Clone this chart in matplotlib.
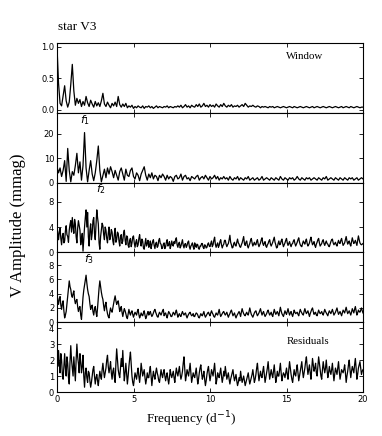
import numpy as np
import matplotlib
matplotlib.use("Agg")
import matplotlib.pyplot as plt

# frequency grids (d^-1)
freq_coarse = np.linspace(0, 20, 201)   # 0.1 step
freq_fine = np.linspace(0, 20, 401)     # 0.05 step

# spectral window (0.1 step)
window = [
    1.00, 0.42, 0.10, 0.06, 0.22, 0.38, 0.14, 0.04, 0.12, 0.40,
    0.72, 0.30, 0.07, 0.18, 0.10, 0.16, 0.05, 0.13, 0.07, 0.21,
    0.11, 0.05, 0.15, 0.09, 0.04, 0.13, 0.06, 0.11, 0.05, 0.14,
    0.26, 0.09, 0.05, 0.12, 0.07, 0.03, 0.10, 0.06, 0.12, 0.05,
    0.21, 0.08, 0.04, 0.09, 0.05, 0.10, 0.03, 0.06, 0.04, 0.07,
    0.02, 0.05, 0.03, 0.06, 0.04, 0.03, 0.06, 0.02, 0.05, 0.04,
    0.06, 0.03, 0.05, 0.02, 0.04, 0.06, 0.03, 0.05, 0.04, 0.03,
    0.05, 0.04, 0.06, 0.03, 0.05, 0.04, 0.03, 0.05, 0.04, 0.06,
    0.04, 0.07, 0.03, 0.05, 0.08, 0.04, 0.06, 0.03, 0.07, 0.05,
    0.04, 0.08, 0.05, 0.09, 0.04, 0.06, 0.10, 0.05, 0.07, 0.04,
    0.08, 0.05, 0.07, 0.04, 0.09, 0.06, 0.04, 0.08, 0.05, 0.10,
    0.06, 0.04, 0.07, 0.05, 0.08, 0.04, 0.06, 0.05, 0.07, 0.04,
    0.06, 0.08, 0.05, 0.10, 0.07, 0.04, 0.06, 0.05, 0.07, 0.05,
    0.04, 0.06, 0.05, 0.03, 0.05, 0.04, 0.05, 0.04, 0.03, 0.05,
    0.04, 0.05, 0.03, 0.04, 0.05, 0.04, 0.03, 0.04, 0.05, 0.04,
    0.03, 0.04, 0.05, 0.04, 0.03, 0.05, 0.04, 0.03, 0.04, 0.05,
    0.04, 0.03, 0.04, 0.05, 0.04, 0.03, 0.04, 0.05, 0.03, 0.04,
    0.05, 0.04, 0.03, 0.04, 0.05, 0.04, 0.03, 0.04, 0.05, 0.04,
    0.03, 0.04, 0.05, 0.04, 0.03, 0.04, 0.05, 0.03, 0.04, 0.05,
    0.04, 0.03, 0.05, 0.04, 0.03, 0.04, 0.05, 0.04, 0.03, 0.04,
    0.04,
]

# amplitude spectrum of the data, f1 marked (0.1 step)
amp_data = [
    6.5, 4.0, 6.0, 2.5, 5.0, 9.0, 0.5, 14.0, 5.0, 0.3,
    4.5, 3.0, 7.0, 12.0, 4.0, 8.5, 1.0, 7.0, 20.5, 6.0,
    0.3, 5.0, 9.0, 3.5, 0.8, 4.0, 9.0, 15.0, 5.0, 0.3,
    3.0, 5.5, 2.0, 6.0, 3.5, 6.5, 4.5, 2.0, 5.0, 3.0,
    1.0, 4.5, 6.0, 3.5, 1.0, 5.5, 3.0, 2.5, 5.0, 6.0,
    2.5, 1.5, 4.0, 3.0, 0.8, 3.5, 5.0, 6.5, 3.0, 1.0,
    3.5, 2.0, 4.0, 1.5, 3.0, 2.5, 0.8, 3.0, 2.0, 3.5,
    2.5, 1.0, 3.0, 1.5, 2.5, 2.0, 0.5, 2.5, 3.0, 1.5,
    2.0, 3.5, 1.0, 2.5, 3.0, 1.5, 2.0, 0.8, 2.5, 2.0,
    1.5, 2.5, 3.0, 1.0, 2.0, 2.5, 1.5, 3.0, 2.0, 1.0,
    2.5, 1.5, 2.0, 3.0, 1.5, 2.5, 1.0, 2.0, 1.5, 2.5,
    1.5, 2.0, 1.0, 2.5, 1.5, 1.0, 2.0, 1.5, 2.5, 1.0,
    2.0, 1.5, 1.0, 2.0, 1.5, 2.5, 1.0, 1.5, 2.0, 1.0,
    1.5, 2.0, 1.0, 1.5, 2.5, 1.0, 1.5, 2.0, 1.5, 1.0,
    2.0, 1.5, 1.0, 2.0, 1.5, 1.0, 2.5, 1.5, 1.0, 2.0,
    1.5, 1.0, 2.0, 1.5, 2.0, 1.0, 1.5, 2.5, 1.5, 1.0,
    2.0, 1.5, 1.0, 2.0, 1.5, 2.0, 1.0, 1.5, 2.0, 1.5,
    1.0, 2.0, 1.5, 1.0, 2.0, 1.5, 2.5, 1.0, 1.5, 2.0,
    1.5, 1.0, 2.0, 1.5, 1.0, 2.0, 1.5, 1.0, 2.0, 1.5,
    1.0, 2.0, 1.5, 2.0, 1.0, 1.5, 2.0, 1.0, 1.5, 2.0,
    1.5,
]

# after prewhitening f1, f2 marked (0.05 step, 10 values per 0.5 d^-1)
amp_pw1 = [
    4.3, 3.0, 2.0, 3.2, 3.8, 2.2, 1.2, 2.6, 3.0, 1.5,
    1.8, 3.4, 4.2, 2.8, 2.5, 1.6, 3.5, 4.4, 5.0, 3.2,
    5.5, 4.0, 3.0, 5.2, 4.5, 2.5, 1.5, 3.8, 5.0, 4.2,
    3.5, 1.2, 2.0, 3.0, 0.2, 2.2, 4.0, 5.5, 6.7, 4.0,
    6.3, 2.5, 1.0, 3.5, 4.5, 2.0, 3.0, 5.0, 5.5, 3.0,
    2.0, 4.5, 6.7, 5.5, 4.5, 1.5, 0.5, 2.5, 3.5, 4.6,
    4.2, 2.8, 2.0, 4.0, 3.5, 2.2, 1.5, 3.0, 4.0, 2.0,
    2.5, 3.6, 3.2, 1.8, 1.2, 2.9, 3.8, 1.6, 2.0, 3.2,
    3.0, 1.8, 1.0, 2.5, 2.8, 1.4, 1.8, 3.0, 3.5, 2.0,
    1.2, 2.6, 2.5, 1.1, 0.8, 1.9, 2.2, 0.9, 1.5, 2.4,
    2.6, 1.5, 0.8, 1.6, 2.0, 0.9, 1.2, 2.2, 2.8, 1.6,
    1.0, 2.1, 1.8, 0.7, 0.5, 1.4, 2.2, 1.0, 1.4, 1.9,
    0.8, 1.2, 1.8, 0.6, 1.2, 1.7, 2.0, 1.1, 0.6, 1.4,
    1.6, 0.8, 1.0, 1.9, 2.2, 1.4, 1.3, 0.6, 0.7, 1.3,
    1.5, 0.6, 0.9, 1.6, 2.0, 1.0, 1.2, 1.7, 0.6, 1.1,
    1.8, 1.2, 1.0, 1.7, 1.4, 2.0, 2.3, 1.2, 0.8, 1.4,
    1.6, 0.7, 1.0, 1.5, 2.0, 1.1, 0.7, 1.3, 1.4, 0.8,
    1.1, 1.6, 1.8, 0.9, 0.5, 1.0, 1.2, 1.5, 0.9, 0.5,
    1.5, 1.1, 0.8, 1.3, 1.2, 0.6, 0.5, 1.0, 1.0, 1.4,
    1.4, 0.8, 0.6, 1.2, 1.1, 0.7, 0.8, 1.3, 1.5, 1.0,
    0.9, 1.4, 1.8, 0.9, 1.2, 1.9, 2.4, 1.3, 0.8, 1.2,
    1.5, 0.8, 1.1, 1.7, 2.0, 1.2, 0.7, 1.1, 1.3, 1.9,
    1.9, 1.3, 0.9, 1.2, 1.4, 2.0, 2.7, 1.6, 1.2, 0.7,
    0.8, 1.4, 1.6, 1.1, 1.0, 1.6, 2.1, 1.5, 1.3, 0.9,
    0.8, 1.2, 1.5, 2.0, 2.5, 1.4, 1.1, 1.6, 1.8, 1.0,
    0.7, 1.1, 1.4, 1.9, 2.2, 1.5, 1.0, 1.3, 1.6, 1.2,
    1.2, 1.7, 2.0, 1.3, 0.9, 1.2, 1.5, 2.0, 2.3, 1.4,
    1.1, 1.5, 1.7, 1.0, 0.8, 1.2, 1.4, 1.8, 2.0, 1.3,
    1.0, 1.3, 1.6, 2.0, 2.4, 1.6, 1.2, 0.7, 0.8, 1.4,
    1.8, 1.2, 1.3, 1.8, 2.1, 1.4, 0.9, 1.2, 1.5, 1.9,
    2.2, 1.5, 1.1, 1.4, 1.7, 1.2, 0.9, 1.3, 1.4, 1.8,
    2.0, 1.4, 1.0, 1.3, 1.6, 2.0, 2.3, 1.6, 1.2, 1.0,
    0.9, 1.4, 1.8, 1.5, 1.3, 1.8, 2.1, 1.4, 1.0, 1.2,
    1.5, 2.0, 2.4, 1.7, 1.2, 1.4, 1.7, 1.1, 0.8, 1.3,
    1.6, 2.0, 2.2, 1.5, 1.0, 1.2, 1.4, 1.8, 2.0, 1.4,
    1.1, 1.5, 1.8, 1.4, 1.3, 1.0, 0.9, 1.3, 1.7, 2.0,
    2.1, 1.5, 1.2, 1.4, 1.6, 1.2, 1.0, 1.5, 1.9, 1.5,
    1.4, 1.9, 2.2, 1.6, 1.1, 1.3, 1.5, 2.0, 2.5, 1.8,
    1.3, 1.6, 1.8, 1.3, 1.0, 1.7, 2.3, 1.8, 1.4, 1.6,
    1.9, 1.5, 1.1, 1.9, 2.6, 2.0, 1.5, 1.3, 1.2, 1.3,
    1.4,
]

# after prewhitening f1, f2; f3 marked (0.05 step)
amp_pw2 = [
    4.2, 3.0, 2.5, 3.3, 3.6, 2.4, 1.8, 2.6, 3.0, 1.6,
    0.6, 1.0, 1.5, 2.6, 3.8, 4.8, 5.8, 5.0, 4.6, 3.8,
    3.5, 4.0, 4.4, 3.2, 2.6, 3.0, 3.2, 2.2, 1.5, 2.0,
    2.2, 1.0, 0.4, 2.0, 3.5, 4.5, 5.2, 6.0, 6.6, 5.5,
    4.6, 4.0, 3.6, 2.6, 1.8, 2.2, 2.4, 1.5, 1.0, 1.8,
    2.2, 1.4, 0.8, 2.0, 3.4, 4.8, 5.8, 5.0, 4.2, 3.6,
    3.2, 2.3, 1.6, 2.4, 2.8, 1.8, 1.2, 0.8, 0.6, 1.4,
    2.0, 1.6, 1.4, 2.0, 2.6, 3.2, 3.7, 3.0, 2.5, 2.8,
    3.0, 2.2, 1.5, 1.9, 2.2, 1.4, 0.8, 1.4, 1.9, 1.6,
    1.2, 0.7, 0.5, 1.2, 1.8, 1.3, 1.0, 1.4, 1.6, 1.1,
    0.7, 1.1, 1.4, 1.2, 1.0, 1.5, 1.8, 1.1, 0.6, 0.9,
    1.3, 1.0, 0.9, 1.3, 1.6, 1.0, 0.5, 0.8, 1.2, 1.5,
    1.0, 1.3, 1.5, 1.1, 0.8, 1.0, 1.3, 1.6, 1.8, 1.4,
    1.1, 0.8, 0.7, 1.1, 1.4, 1.2, 1.0, 1.3, 1.6, 1.8,
    0.9, 1.2, 1.3, 0.9, 0.6, 1.1, 1.5, 1.3, 1.1, 0.8,
    0.8, 1.1, 1.4, 1.2, 1.0, 1.4, 1.7, 1.2, 0.7, 1.0,
    1.2, 0.9, 0.8, 1.2, 1.5, 1.2, 1.0, 1.2, 1.3, 0.9,
    0.6, 0.9, 1.1, 1.3, 1.4, 1.1, 0.9, 1.0, 1.2, 0.8,
    0.8, 1.1, 1.3, 1.2, 1.0, 0.7, 0.6, 0.9, 1.2, 1.0,
    0.9, 1.2, 1.5, 1.0, 0.7, 0.9, 1.1, 1.3, 1.4, 1.1,
    0.9, 1.3, 1.6, 1.3, 1.1, 0.8, 0.7, 1.0, 1.3, 1.1,
    1.0, 1.4, 1.8, 1.2, 0.8, 1.0, 1.2, 1.4, 1.5, 1.2,
    1.0, 1.2, 1.4, 1.0, 0.7, 1.0, 1.2, 1.5, 1.7, 1.3,
    0.9, 1.1, 1.3, 0.9, 0.6, 0.9, 1.1, 1.3, 1.5, 1.2,
    0.8, 1.4, 1.9, 1.5, 1.2, 1.0, 0.9, 1.2, 1.4, 1.1,
    1.0, 1.5, 2.0, 1.5, 1.1, 0.9, 0.7, 1.0, 1.3, 1.5,
    1.6, 1.2, 0.9, 1.1, 1.3, 1.6, 1.9, 1.4, 1.0, 1.3,
    1.5, 1.1, 0.8, 1.0, 1.2, 1.5, 1.7, 1.3, 1.0, 1.2,
    1.4, 1.0, 0.8, 1.3, 1.8, 1.4, 1.1, 1.3, 1.5, 1.2,
    0.9, 1.5, 2.1, 1.6, 1.2, 1.0, 0.8, 1.2, 1.6, 1.3,
    1.1, 1.5, 1.9, 1.4, 1.0, 1.3, 1.5, 1.1, 0.8, 1.2,
    1.7, 1.4, 1.2, 1.3, 1.4, 1.1, 0.9, 1.4, 1.8, 1.5,
    1.3, 1.1, 1.0, 1.5, 1.9, 1.5, 1.2, 1.4, 1.6, 1.2,
    0.8, 1.2, 1.5, 1.8, 2.0, 1.5, 1.1, 1.3, 1.4, 1.0,
    0.9, 1.3, 1.7, 1.4, 1.2, 1.3, 1.5, 1.2, 1.0, 1.4,
    1.8, 1.5, 1.3, 1.1, 0.9, 1.3, 1.6, 1.4, 1.2, 1.5,
    1.8, 1.4, 1.0, 1.2, 1.4, 1.7, 2.0, 1.5, 1.1, 1.3,
    1.5, 1.2, 0.9, 1.3, 1.7, 1.5, 1.3, 1.7, 2.1, 1.6,
    1.2, 1.4, 1.6, 1.3, 1.0, 1.4, 1.9, 1.6, 1.3, 1.8,
    2.2, 1.6, 1.0, 1.3, 1.7, 1.5, 1.4, 1.7, 2.0, 1.6,
    1.3,
]

# residuals after f1, f2, f3 (0.05 step)
amp_resid = [
    2.2, 1.6, 2.6, 1.8, 1.2, 2.4, 2.0, 1.1, 0.8, 1.6,
    2.4, 1.5, 1.0, 2.2, 1.8, 0.9, 0.5, 1.9, 2.9, 2.0,
    1.5, 1.0, 2.2, 1.4, 0.7, 2.0, 3.0, 2.2, 1.8, 1.2,
    2.4, 1.9, 1.2, 1.6, 2.3, 1.0, 0.3, 1.2, 1.5, 0.9,
    0.6, 1.3, 1.2, 0.7, 0.3, 0.6, 1.0, 1.4, 1.6, 1.0,
    0.5, 0.9, 1.1, 0.7, 0.4, 0.9, 1.3, 1.0, 0.8, 1.4,
    1.8, 1.3, 0.9, 1.2, 1.5, 2.0, 2.3, 1.6, 1.2, 1.5,
    1.9, 1.2, 0.8, 1.3, 1.5, 0.9, 0.6, 1.8, 2.7, 2.0,
    1.4, 1.1, 0.9, 1.5, 2.1, 1.6, 2.6, 1.5, 0.7, 1.2,
    1.8, 1.1, 0.5, 1.0, 1.6, 2.1, 2.5, 1.7, 1.0, 0.6,
    0.4, 0.8, 1.2, 1.0, 0.8, 1.2, 1.5, 1.0, 0.6, 1.1,
    1.8, 1.4, 1.0, 1.2, 1.4, 0.9, 0.5, 0.8, 1.2, 0.9,
    0.9, 1.3, 1.6, 1.0, 0.4, 0.9, 1.3, 1.0, 0.8, 1.2,
    1.5, 1.2, 1.0, 0.7, 0.6, 1.0, 1.4, 1.1, 0.9, 1.2,
    1.4, 1.0, 0.7, 1.0, 1.2, 0.8, 0.5, 0.9, 1.4, 1.1,
    0.9, 1.1, 1.3, 0.9, 0.6, 1.1, 1.5, 1.2, 1.0, 1.3,
    1.6, 1.1, 0.8, 1.0, 1.3, 1.8, 2.2, 1.4, 0.7, 1.0,
    1.4, 1.2, 1.0, 1.4, 1.8, 1.2, 0.6, 0.9, 1.2, 1.0,
    0.9, 1.2, 1.5, 1.0, 0.5, 0.8, 1.2, 1.5, 1.7, 1.2,
    0.8, 1.0, 1.3, 0.8, 0.4, 0.7, 1.1, 1.4, 1.6, 1.1,
    0.7, 1.0, 1.4, 1.2, 1.0, 1.4, 1.8, 1.1, 0.5, 0.8,
    1.2, 1.0, 0.9, 1.2, 1.5, 1.0, 0.6, 0.9, 1.3, 1.0,
    1.6, 1.2, 0.8, 1.0, 1.2, 0.8, 0.5, 0.8, 1.0, 1.2,
    1.4, 1.0, 0.7, 0.9, 1.1, 0.7, 0.4, 0.6, 0.9, 0.7,
    1.3, 0.9, 0.6, 0.8, 1.0, 0.7, 0.4, 0.6, 0.8, 1.0,
    1.2, 0.8, 0.5, 0.7, 0.9, 1.1, 1.4, 1.0, 0.6, 0.8,
    1.1, 1.5, 1.8, 1.2, 0.7, 1.0, 1.3, 1.0, 0.9, 1.3,
    1.6, 1.1, 0.6, 0.9, 1.2, 1.5, 1.9, 1.3, 0.8, 1.1,
    1.4, 1.1, 0.9, 1.3, 1.7, 1.1, 0.6, 0.9, 1.3, 1.0,
    1.0, 1.4, 1.8, 1.2, 0.7, 1.0, 1.2, 1.1, 0.9, 1.2,
    1.5, 1.1, 0.8, 1.4, 1.9, 1.5, 1.1, 0.8, 0.6, 1.0,
    1.4, 1.1, 1.0, 1.4, 1.7, 1.2, 0.7, 1.0, 1.3, 1.6,
    1.9, 1.3, 0.9, 1.2, 1.5, 1.9, 2.2, 1.6, 1.1, 1.4,
    1.7, 1.2, 0.8, 1.5, 2.1, 1.7, 1.3, 1.5, 1.8, 1.2,
    1.0, 1.6, 2.2, 1.8, 1.4, 1.0, 0.8, 1.4, 1.9, 1.5,
    1.2, 1.5, 2.0, 1.4, 0.9, 1.2, 1.6, 1.3, 1.1, 1.4,
    1.8, 1.2, 0.7, 1.1, 1.5, 1.3, 1.1, 1.5, 1.9, 1.3,
    0.8, 1.1, 1.4, 1.3, 1.2, 1.4, 1.7, 1.2, 0.6, 1.0,
    1.3, 1.7, 2.0, 1.4, 0.9, 1.3, 1.6, 1.4, 1.2, 1.7,
    2.1, 1.5, 0.8, 1.1, 1.5, 1.7, 1.9, 1.5, 1.1, 1.3,
    1.4,
]

freqs = [freq_coarse, freq_coarse, freq_fine, freq_fine, freq_fine]
series = [window, amp_data, amp_pw1, amp_pw2, amp_resid]
ylims = [(-0.05, 1.06), (0, 28.6), (0, 11), (0, 9.8), (0, 4.37)]
yticks = [[0, 0.5, 1.0], [0, 10, 20], [0, 4, 8], [0, 2, 4, 6, 8], [0, 1, 2, 3, 4]]
ytlabels = [["0.0", "0.5", "1.0"], None, None, None, None]
peak_labels = [None, (1.83, r"$f_1$"), (2.88, r"$f_2$"), (2.1, r"$f_3$"), None]

SERIF = ["Liberation Serif", "DejaVu Serif"]

fig = plt.figure(figsize=(3.82, 4.36), dpi=100)
fig.subplots_adjust(left=57/382, right=363/382, top=1-43/436, bottom=1-392/436, hspace=0)
axes = fig.subplots(5, 1, sharex=True)

for i, ax in enumerate(axes):
    ax.plot(freqs[i], series[i], color="black", lw=0.9)
    ax.set_xlim(0, 20)
    ax.set_ylim(*ylims[i])
    ax.set_yticks(yticks[i])
    if ytlabels[i] is not None:
        ax.set_yticklabels(ytlabels[i])
    ax.set_xticks([0, 5, 10, 15, 20])
    ax.tick_params(direction="in", top=True, right=True, length=3,
                   width=0.6, labelsize=6, pad=2)
    for s in ax.spines.values():
        s.set_linewidth(0.8)
    if peak_labels[i] is not None:
        fx, lab = peak_labels[i]
        ax.text(fx, 0.9, lab, transform=ax.get_xaxis_transform(),
                fontsize=8, ha="center", va="center")

axes[0].text(0.81, 0.8, "Window", transform=axes[0].transAxes,
             fontsize=7.8, family=SERIF, ha="center", va="center")
axes[4].text(0.82, 0.73, "Residuals", transform=axes[4].transAxes,
             fontsize=7.8, family=SERIF, ha="center", va="center")

fig.text(58/382, 1-27/436, "star V3", fontsize=9.5, family=SERIF,
         ha="left", va="center")
fig.text(191/382, 1-419/436, r"Frequency (d$^{-1}$)", fontsize=9.5,
         family=SERIF, ha="center", va="center")
fig.text(18/382, 1-225/436, "V Amplitude (mmag)", fontsize=12,
         family=SERIF, ha="center", va="center", rotation=90)

fig.savefig("out.png", dpi=100)
